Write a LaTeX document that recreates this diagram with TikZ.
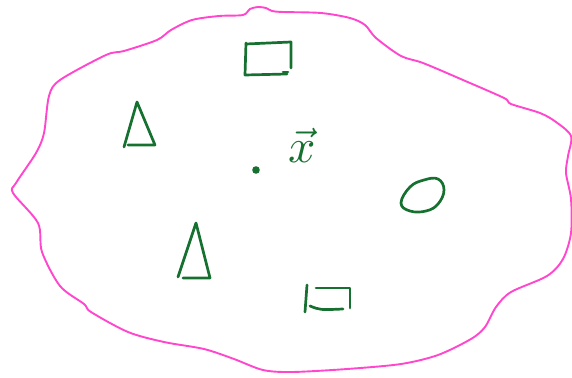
\documentclass[tikz,border=0pt]{standalone}
\usepackage{amsmath}
\definecolor{blobpink}{RGB}{255,70,205}
\definecolor{inkgreen}{RGB}{22,112,48}
\tikzset{
  blob/.style={draw=blobpink, line width=1.9pt, line join=round, line cap=round},
  ink/.style={draw=inkgreen, line width=2.7pt, line join=round, line cap=round},
}
\begin{document}
\begin{tikzpicture}[x=1pt,y=-1pt]
\useasboundingbox (0,0) rectangle (572,377);
% outer blob
\draw[blob] plot[smooth cycle, tension=0.5] coordinates {
 (243,15) (250,9) (258,7) (266,8) (272,11) (283,12) (321,13) (350,18) (365,25) (376,38)
 (401,56) (423,63) (463,80) (504,98) (511,104) (540,113) (556,122) (571,136)
 (568,156) (566,173) (571,199) (571,233) (563,259) (547,276) (511,292) (496,307)
 (485,327) (471,339) (438,355) (401,364) (347,369) (292,372) (263,370) (234,359)
 (204,349) (164,342) (128,332) (91,312) (84,304) (60,286) (42,252) (38,223)
 (13,193) (16,183) (36,153) (44,133) (49,96) (60,80) (106,55) (124,51) (157,40)
 (171,30) (192,20) (219,16)};
% top rectangle
\draw[ink] (246,44) -- (291,42) -- (291,68);
\draw[ink] (246,43) -- (245,75) -- (287,74);
\draw[ink] (283,72) -- (288,72);
% triangles
\draw[ink] (124,147) -- (137,102) -- (155,145) -- (128,145);
\draw[ink] (178,277) -- (196,223) -- (210,278) -- (183,278);
% bottom square
\draw[ink] (307,285) -- (305,312);
\draw[ink] (316,288) -- (350,288) -- (350,308);
\draw[ink] (310,306) .. controls (320,310) .. (343,309);
% ellipse
\draw[ink] plot[smooth cycle, tension=0.7] coordinates {
 (401,203) (410,187) (424,180) (438,179) (444,190) (438,204) (426,211) (410,211)};
% dot
\fill[inkgreen] (256,170) circle (3.8);
% vector label
\node[text=inkgreen, scale=4.8, inner sep=0pt] (xvec) at (302,145) {$\vec{x}$};
\end{tikzpicture}
\end{document}
